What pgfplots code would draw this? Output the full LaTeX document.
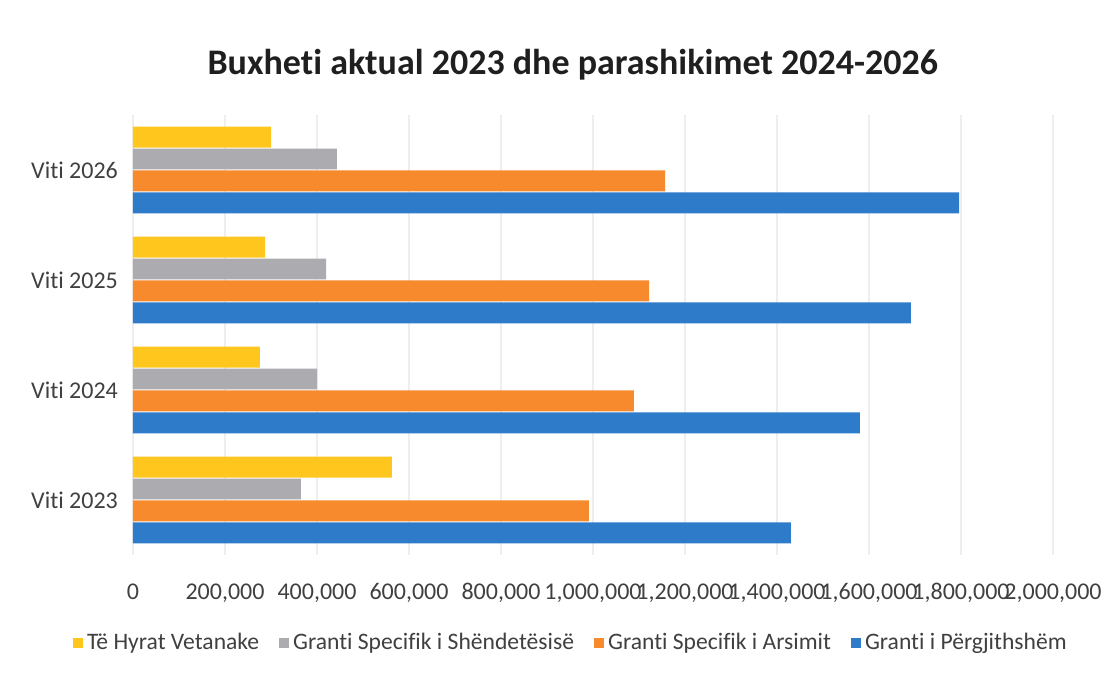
\documentclass[border=0pt]{standalone}
\usepackage{pgfplots}
\pgfplotsset{compat=1.18}
\usepackage{fontspec}
\setmainfont{Carlito}[Ligatures={NoCommon}]
\definecolor{cyel}{HTML}{FFC61E}
\definecolor{cgray}{HTML}{ABABB0}
\definecolor{corg}{HTML}{F78A2D}
\definecolor{cblue}{HTML}{2E7BC9}
\definecolor{ctext}{HTML}{404040}
\begin{document}
\begin{tikzpicture}
\begin{axis}[
  width=460pt, height=220pt, scale only axis,
  xbar=0.5pt, bar width=0.19,
  xmin=0, xmax=2000000,
  ymin=-0.5, ymax=3.5,
  ytick={0,1,2,3},
  yticklabels={Viti 2023,Viti 2024,Viti 2025,Viti 2026},
  xtick={0,200000,...,2000000},
  scaled x ticks=false,
  /pgf/number format/assume math mode=true,
  xticklabel={\pgfmathprintnumber[fixed,1000 sep={,}]{\tick}},
  xmajorgrids, grid style={gray!13, line width=0.6pt},
  axis line style={draw=none},
  major tick length=0pt,
  tick label style={font=\fontsize{12}{14}\selectfont, text=ctext},
  xticklabel style={anchor=base, yshift=-22.5pt},
  yticklabel style={xshift=-4pt},
  title={\fontsize{18}{22}\selectfont\bfseries Buxheti aktual 2023 dhe parashikimet 2024-2026},
  title style={at={(0.478,1)}, anchor=base, yshift=14pt, text=black!88},
  legend columns=4, reverse legend,
  legend style={at={(0.477,0)}, anchor=center, yshift=-44pt, draw=none,
    font=\fontsize{11.8}{14}\selectfont, text=ctext,
    /tikz/every even column/.append style={column sep=8pt}},
  legend image code/.code={\fill[#1] (0pt,-2.5pt) rectangle (5pt,2.5pt);},
]
\addplot[fill=cblue, draw=none] coordinates {(1430000,0) (1580000,1) (1691000,2) (1796000,3)};
\addplot[fill=corg, draw=none] coordinates {(991000,0) (1089000,1) (1122000,2) (1157000,3)};
\addplot[fill=cgray, draw=none] coordinates {(365000,0) (400000,1) (420000,2) (443000,3)};
\addplot[fill=cyel, draw=none] coordinates {(563000,0) (276000,1) (287000,2) (300000,3)};
\legend{Granti i Përgjithshëm, Granti Specifik i Arsimit, Granti Specifik i Shëndetësisë, Të Hyrat Vetanake}
\end{axis}
\pgfresetboundingbox
\path[use as bounding box] ([xshift=-66.5pt,yshift=-61pt]current axis.south west) rectangle ([xshift=32pt,yshift=57.5pt]current axis.north east);
\end{tikzpicture}
\end{document}
